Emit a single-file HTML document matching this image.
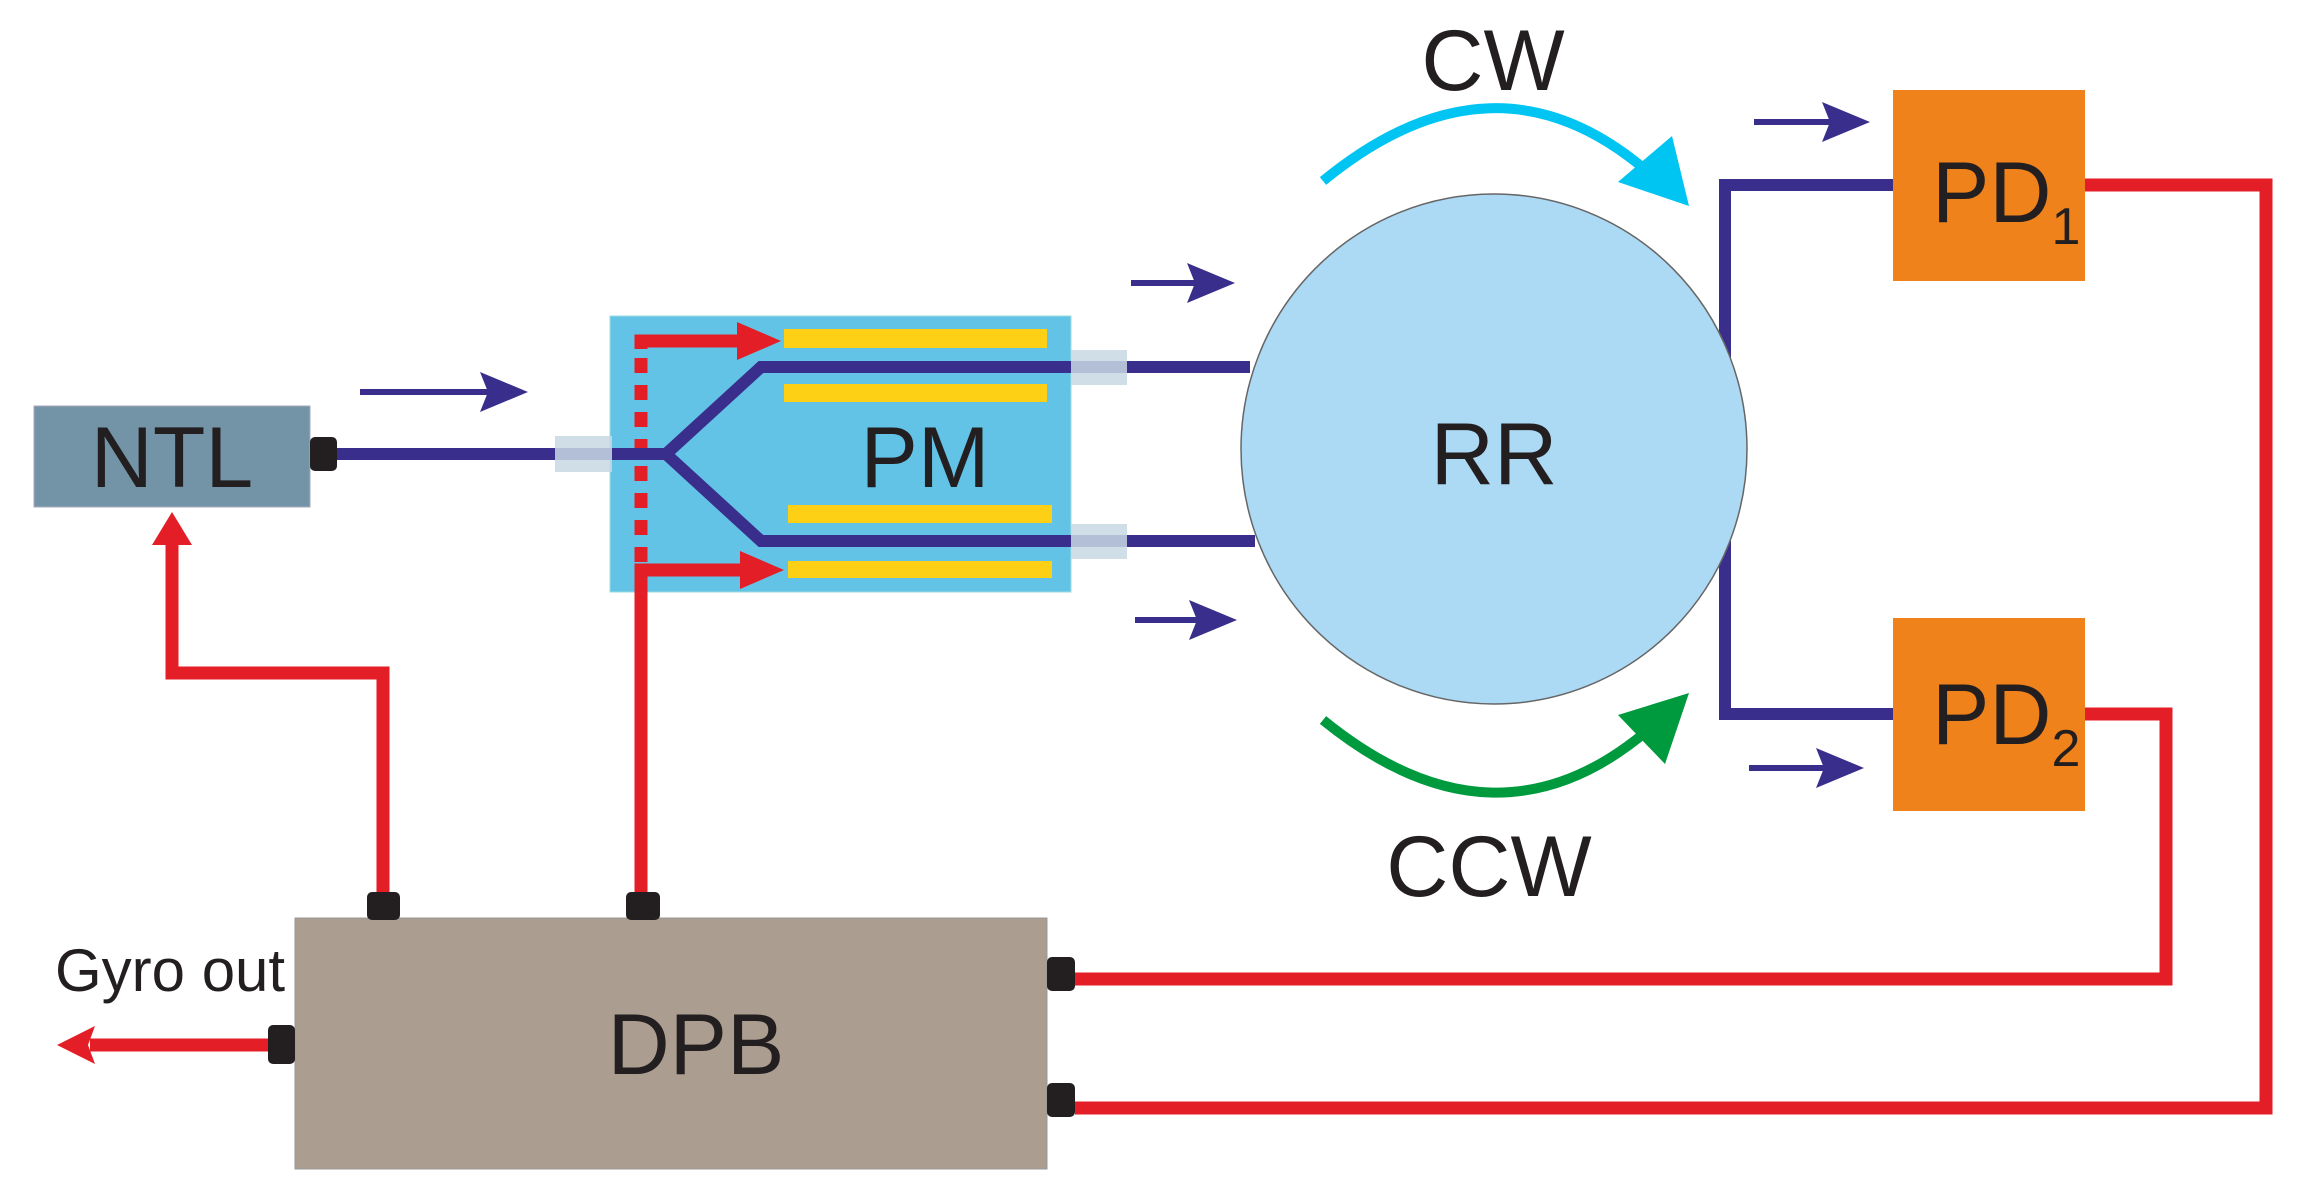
<!DOCTYPE html>
<html><head><meta charset="utf-8"><style>
html,body{margin:0;padding:0;background:#fff;}
svg{display:block;}
text{font-family:"Liberation Sans",sans-serif;fill:#231f20;}
</style></head><body>
<svg width="2307" height="1192" viewBox="0 0 2307 1192" xmlns="http://www.w3.org/2000/svg">
<!-- red wires -->
<g stroke="#e41e26" stroke-width="13" fill="none">
<polyline points="383,895 383,673 172,673 172,540"/>
<polyline points="2085,185 2266,185 2266,1108 1075,1108"/>
<polyline points="2085,714 2166,714 2166,979 1075,979"/>
<line x1="268" y1="1045" x2="90" y2="1045"/>
</g>
<polygon points="172,512 152,545 192,545" fill="#e41e26"/>
<polygon points="57,1045 95,1026 88,1045 95,1064" fill="#e41e26"/>
<!-- NTL -->
<rect x="34" y="406" width="276" height="101" fill="#7394a7" stroke="#aab" stroke-width="1"/>
<text x="172" y="487" font-size="86" text-anchor="middle">NTL</text>
<rect x="310" y="437" width="27" height="34" rx="5" fill="#231f20"/>
<!-- PM -->
<rect x="610" y="316" width="461" height="276" fill="#62c3e6" stroke="#9dd" stroke-width="1"/>
<g fill="#fdd016">
<rect x="784" y="329" width="263" height="19"/>
<rect x="784" y="384" width="263" height="18"/>
<rect x="788" y="505" width="264" height="18"/>
<rect x="788" y="561" width="264" height="17"/>
</g>
<text x="925" y="487" font-size="86" text-anchor="middle">PM</text>
<g stroke="#e41e26" stroke-width="13" fill="none">
<polyline points="641,895 641,570 745,570"/>
<polyline points="641,349 641,341 745,341"/>
<line x1="641" y1="358" x2="641" y2="565" stroke-dasharray="15,12"/>
</g>
<polygon points="737,322 781,341 737,360" fill="#e41e26"/>
<polygon points="740,551 784,570 740,589" fill="#e41e26"/>
<!-- blue fiber -->
<g stroke="#3a2e8c" stroke-width="12" fill="none" stroke-linejoin="miter">
<polyline points="337,454 666,454 761,367 1250,367"/>
<polyline points="666,454 761,541 1255,541"/>
<polyline points="1725,600 1725,185 1893,185"/>
<polyline points="1725,350 1725,714 1893,714"/>
</g>
<g fill="#c8d8e4" opacity="0.85">
<rect x="555" y="436" width="57" height="36"/>
<rect x="1071" y="350" width="56" height="35"/>
<rect x="1071" y="524" width="56" height="35"/>
</g>
<!-- RR -->
<ellipse cx="1494" cy="449" rx="253" ry="255" fill="#acd9f3" stroke="#666" stroke-width="1.5"/>
<text x="1494" y="484" font-size="88" text-anchor="middle">RR</text>
<!-- CW/CCW arcs -->
<path d="M1323,181 Q1495,40 1648,172" stroke="#00c4f2" stroke-width="10" fill="none"/>
<polygon points="1689,206 1618,182 1672,136" fill="#00c4f2"/>
<path d="M1323,720 Q1495,860 1648,730" stroke="#009a3e" stroke-width="10" fill="none"/>
<polygon points="1689,693 1665,764 1618,715" fill="#009a3e"/>
<text x="1493" y="90" font-size="86" text-anchor="middle">CW</text>
<text x="1489" y="896" font-size="86" text-anchor="middle">CCW</text>
<!-- small arrows -->
<g fill="#3a2e8c">
<rect x="360" y="389" width="140" height="6"/><polygon points="528,392 480,372 488,392 480,412"/>
<rect x="1131" y="280" width="80" height="6"/><polygon points="1235,283 1187,263 1195,283 1187,303"/>
<rect x="1135" y="617" width="80" height="6"/><polygon points="1237,620 1189,600 1197,620 1189,640"/>
<rect x="1754" y="119" width="90" height="6"/><polygon points="1870,122 1822,102 1830,122 1822,142"/>
<rect x="1749" y="765" width="90" height="6"/><polygon points="1864,768 1816,748 1824,768 1816,788"/>
</g>
<!-- PDs -->
<rect x="1893" y="90" width="192" height="191" fill="#f0821b"/>
<text x="1932" y="222" font-size="86">PD<tspan font-size="52" dy="22">1</tspan></text>
<rect x="1893" y="618" width="192" height="193" fill="#f0821b"/>
<text x="1932" y="744" font-size="86">PD<tspan font-size="52" dy="22">2</tspan></text>
<!-- DPB -->
<rect x="295" y="918" width="752" height="251" fill="#ab9d8f" stroke="#999" stroke-width="1"/>
<text x="696" y="1074" font-size="86" text-anchor="middle">DPB</text>
<g fill="#231f20">
<rect x="367" y="892" width="33" height="28" rx="5"/>
<rect x="626" y="892" width="34" height="28" rx="5"/>
<rect x="1047" y="957" width="28" height="34" rx="5"/>
<rect x="1047" y="1083" width="28" height="34" rx="5"/>
<rect x="268" y="1025" width="27" height="39" rx="5"/>
</g>
<text x="55" y="991" font-size="60">Gyro out</text>
</svg>
</body></html>
